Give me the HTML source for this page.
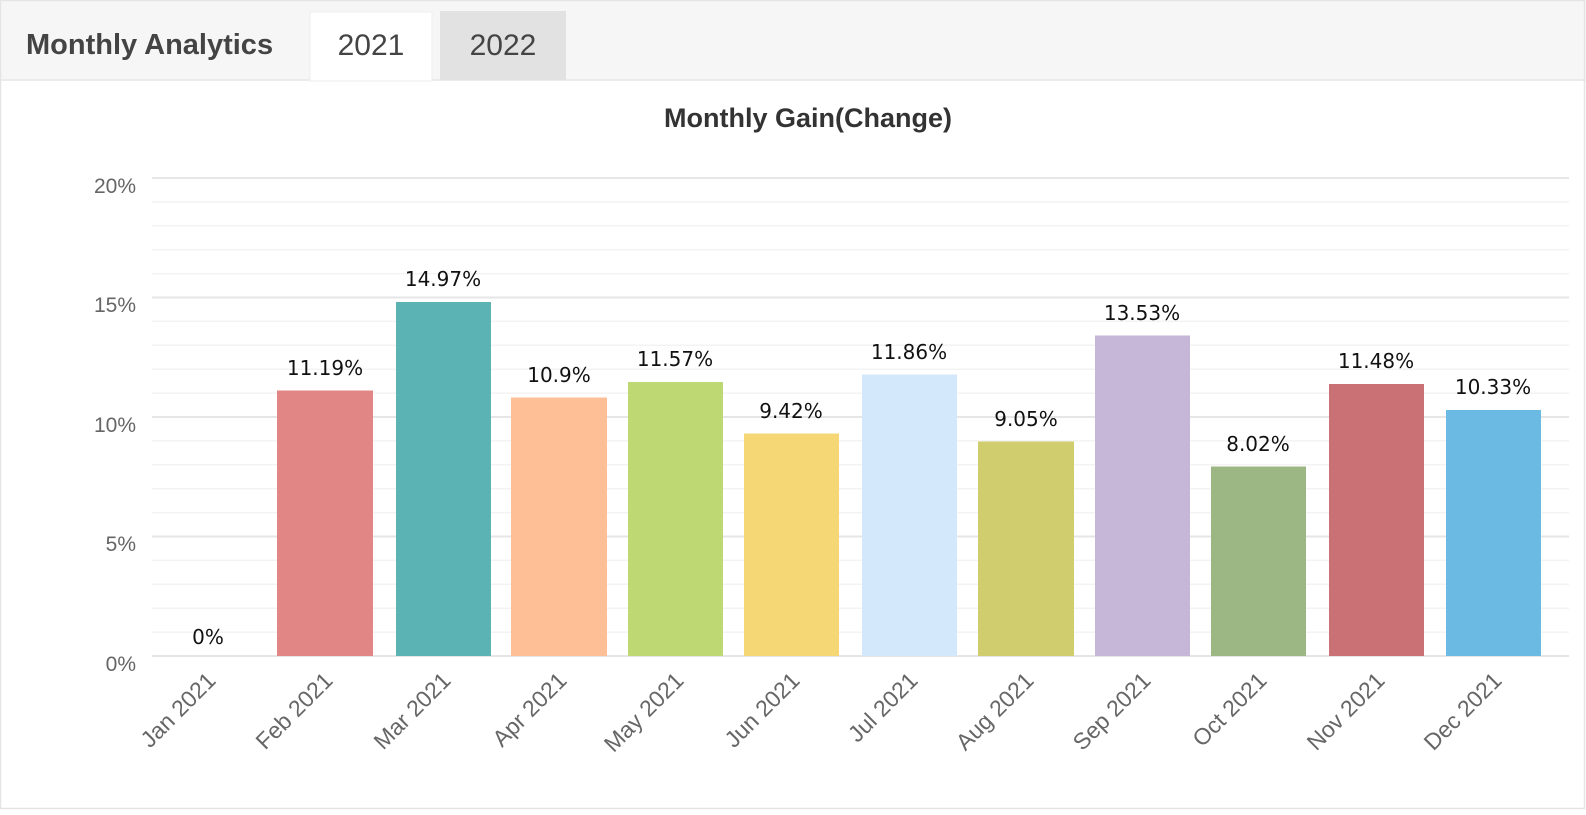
<!DOCTYPE html>
<html><head><meta charset="utf-8"><style>
html,body{margin:0;padding:0;background:#fff;}
body{width:1586px;height:810px;overflow:hidden;font-family:"Liberation Sans",Arial,sans-serif;}
</style></head><body>
<svg width="1586" height="810" xmlns="http://www.w3.org/2000/svg" font-family="Liberation Sans, Arial, sans-serif">
<rect x="0" y="0" width="1586" height="810" fill="#fff"/>
<rect x="0" y="0" width="1586" height="80" fill="#f6f6f6"/>
<rect x="0" y="79" width="1586" height="2" fill="#ebebeb"/>
<rect x="0.5" y="0.5" width="1584" height="808" fill="none" stroke="#e4e4e4" stroke-width="1.5"/>
<rect x="310" y="12" width="122" height="69" fill="#fff" stroke="#ededed"/>
<rect x="440" y="11" width="126" height="69" fill="#e2e2e2"/>
<text x="26" y="54" font-size="29" font-weight="bold" fill="#444">Monthly Analytics</text>
<text x="371" y="55" font-size="30" fill="#444" text-anchor="middle">2021</text>
<text x="503" y="55" font-size="30" fill="#444" text-anchor="middle">2022</text>
<text x="808" y="127" font-size="27" font-weight="bold" fill="#333" text-anchor="middle">Monthly Gain(Change)</text>
<g stroke="#f3f3f3" stroke-width="1.5">
<line x1="152" x2="1569" y1="632.1" y2="632.1"/><line x1="152" x2="1569" y1="608.2" y2="608.2"/><line x1="152" x2="1569" y1="584.3" y2="584.3"/><line x1="152" x2="1569" y1="560.4" y2="560.4"/>
<line x1="152" x2="1569" y1="512.6" y2="512.6"/><line x1="152" x2="1569" y1="488.7" y2="488.7"/><line x1="152" x2="1569" y1="464.8" y2="464.8"/><line x1="152" x2="1569" y1="440.9" y2="440.9"/>
<line x1="152" x2="1569" y1="393.1" y2="393.1"/><line x1="152" x2="1569" y1="369.2" y2="369.2"/><line x1="152" x2="1569" y1="345.3" y2="345.3"/><line x1="152" x2="1569" y1="321.4" y2="321.4"/>
<line x1="152" x2="1569" y1="273.6" y2="273.6"/><line x1="152" x2="1569" y1="249.7" y2="249.7"/><line x1="152" x2="1569" y1="225.8" y2="225.8"/><line x1="152" x2="1569" y1="201.9" y2="201.9"/>
</g>
<g stroke="#e6e6e6" stroke-width="2">
<line x1="152" x2="1569" y1="178" y2="178"/><line x1="152" x2="1569" y1="297.5" y2="297.5"/><line x1="152" x2="1569" y1="417" y2="417"/><line x1="152" x2="1569" y1="536.5" y2="536.5"/><line x1="152" x2="1569" y1="656" y2="656"/>
</g>
<g font-size="21" fill="#666" text-anchor="end">
<text x="136" y="193">20%</text><text x="136" y="312">15%</text><text x="136" y="432">10%</text><text x="136" y="551">5%</text><text x="136" y="671">0%</text>
</g>
<g>
<rect x="277" y="390.5" width="96" height="265.5" fill="#e28585"/>
<rect x="396" y="302" width="95" height="354" fill="#5bb3b4"/>
<rect x="511" y="397.5" width="96" height="258.5" fill="#ffbf96"/>
<rect x="628" y="382" width="95" height="274" fill="#bed873"/>
<rect x="744" y="433.5" width="95" height="222.5" fill="#f6d776"/>
<rect x="862" y="374.5" width="95" height="281.5" fill="#d3e8fa"/>
<rect x="978" y="441.5" width="96" height="214.5" fill="#cfcd6e"/>
<rect x="1095" y="335.5" width="95" height="320.5" fill="#c6b6d8"/>
<rect x="1211" y="466.5" width="95" height="189.5" fill="#9cb783"/>
<rect x="1329" y="384" width="95" height="272" fill="#c97174"/>
<rect x="1446" y="410" width="95" height="246" fill="#6bbae3"/>
</g>
<g font-size="20" fill="#111" text-anchor="middle" font-family="DejaVu Sans, sans-serif">
<text x="208" y="644">0%</text>
<text x="325" y="375">11.19%</text>
<text x="443" y="286">14.97%</text>
<text x="559" y="382">10.9%</text>
<text x="675" y="366">11.57%</text>
<text x="791" y="418">9.42%</text>
<text x="909" y="359">11.86%</text>
<text x="1026" y="426">9.05%</text>
<text x="1142" y="320">13.53%</text>
<text x="1258" y="451">8.02%</text>
<text x="1376" y="368">11.48%</text>
<text x="1493" y="394">10.33%</text>
</g>
<g font-size="23" fill="#666" text-anchor="end">
<text transform="translate(217,682) rotate(-45)">Jan 2021</text>
<text transform="translate(334,682) rotate(-45)">Feb 2021</text>
<text transform="translate(452,682) rotate(-45)">Mar 2021</text>
<text transform="translate(568,682) rotate(-45)">Apr 2021</text>
<text transform="translate(685,682) rotate(-45)">May 2021</text>
<text transform="translate(801,682) rotate(-45)">Jun 2021</text>
<text transform="translate(919,682) rotate(-45)">Jul 2021</text>
<text transform="translate(1035,682) rotate(-45)">Aug 2021</text>
<text transform="translate(1152,682) rotate(-45)">Sep 2021</text>
<text transform="translate(1268,682) rotate(-45)">Oct 2021</text>
<text transform="translate(1386,682) rotate(-45)">Nov 2021</text>
<text transform="translate(1503,682) rotate(-45)">Dec 2021</text>
</g>
</svg>
</body></html>
